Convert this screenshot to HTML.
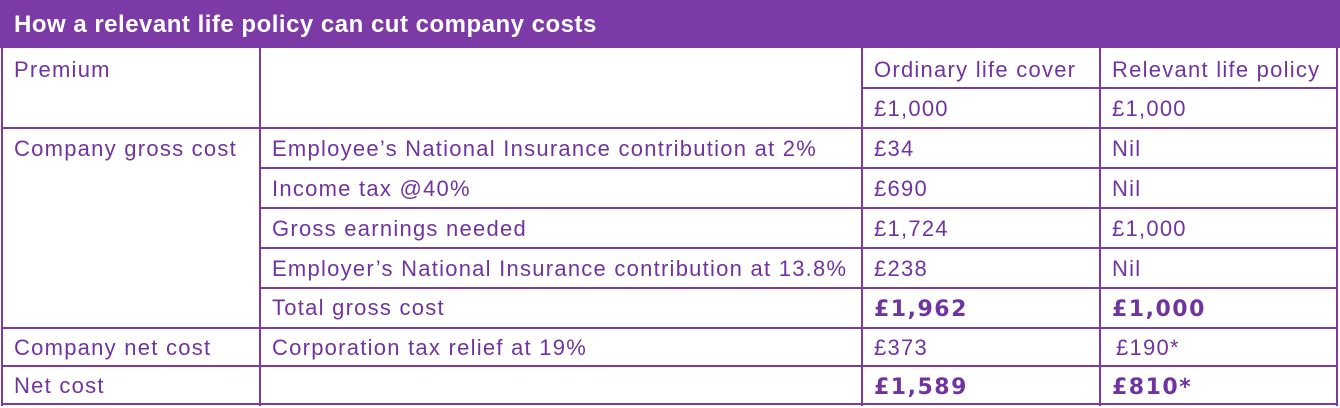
<!DOCTYPE html>
<html><head><style>
body{margin:0;width:1340px;height:408px;background:#fff;position:relative;overflow:hidden;font-family:"Liberation Sans",sans-serif;color:#7034a0}
.h{position:absolute;background:#7b3aa6}
.v{position:absolute;background:#7b3aa6;width:2px}
.l{position:absolute;height:2px;background:#7b3aa6}
.t{position:absolute;font-size:22px;line-height:24px;white-space:nowrap;letter-spacing:1.25px}
.b{font-weight:bold;font-family:"DejaVu Sans",sans-serif;font-size:22px;letter-spacing:1.5px;margin-top:2px}
</style></head><body>
<div class="h" style="left:0;top:0;width:1340px;height:48px"></div>
<div class="t" style="left:14px;top:13px;color:#fff;font-size:24px;font-weight:bold;letter-spacing:0.5px">How a relevant life policy can cut company costs</div>
<div class="v" style="left:1px;top:46px;height:360px"></div>
<div class="v" style="left:259px;top:46px;height:360px"></div>
<div class="v" style="left:861px;top:46px;height:360px"></div>
<div class="v" style="left:1099px;top:46px;height:360px"></div>
<div class="v" style="left:1336px;top:46px;height:360px"></div>
<div class="l" style="left:861px;top:87px;width:477px"></div>
<div class="l" style="left:1px;top:127px;width:1337px"></div>
<div class="l" style="left:259px;top:167px;width:1079px"></div>
<div class="l" style="left:259px;top:207px;width:1079px"></div>
<div class="l" style="left:259px;top:247px;width:1079px"></div>
<div class="l" style="left:259px;top:287px;width:1079px"></div>
<div class="l" style="left:1px;top:327px;width:1337px"></div>
<div class="l" style="left:1px;top:365px;width:1337px"></div>
<div class="l" style="left:1px;top:403px;width:1337px"></div>

<div class="t" style="left:14px;top:58px">Premium</div>
<div class="t" style="left:874px;top:58px">Ordinary life cover</div>
<div class="t" style="left:1112px;top:58px">Relevant life policy</div>
<div class="t" style="left:874px;top:97px">£1,000</div>
<div class="t" style="left:1112px;top:97px">£1,000</div>

<div class="t" style="left:14px;top:137px">Company gross cost</div>
<div class="t" style="left:272px;top:137px">Employee’s National Insurance contribution at 2%</div>
<div class="t" style="left:874px;top:137px">£34</div>
<div class="t" style="left:1112px;top:137px">Nil</div>
<div class="t" style="left:272px;top:177px">Income tax @40%</div>
<div class="t" style="left:874px;top:177px">£690</div>
<div class="t" style="left:1112px;top:177px">Nil</div>
<div class="t" style="left:272px;top:217px">Gross earnings needed</div>
<div class="t" style="left:874px;top:217px">£1,724</div>
<div class="t" style="left:1112px;top:217px">£1,000</div>
<div class="t" style="left:272px;top:257px">Employer’s National Insurance contribution at 13.8%</div>
<div class="t" style="left:874px;top:257px">£238</div>
<div class="t" style="left:1112px;top:257px">Nil</div>
<div class="t" style="left:272px;top:296px">Total gross cost</div>
<div class="t b" style="left:874px;top:296px">£1,962</div>
<div class="t b" style="left:1112px;top:296px">£1,000</div>

<div class="t" style="left:14px;top:336px">Company net cost</div>
<div class="t" style="left:272px;top:336px">Corporation tax relief at 19%</div>
<div class="t" style="left:874px;top:336px">£373</div>
<div class="t" style="left:1116px;top:336px">£190*</div>
<div class="t" style="left:14px;top:374px">Net cost</div>
<div class="t b" style="left:874px;top:374px">£1,589</div>
<div class="t b" style="left:1112px;top:374px">£810*</div>
</body></html>
